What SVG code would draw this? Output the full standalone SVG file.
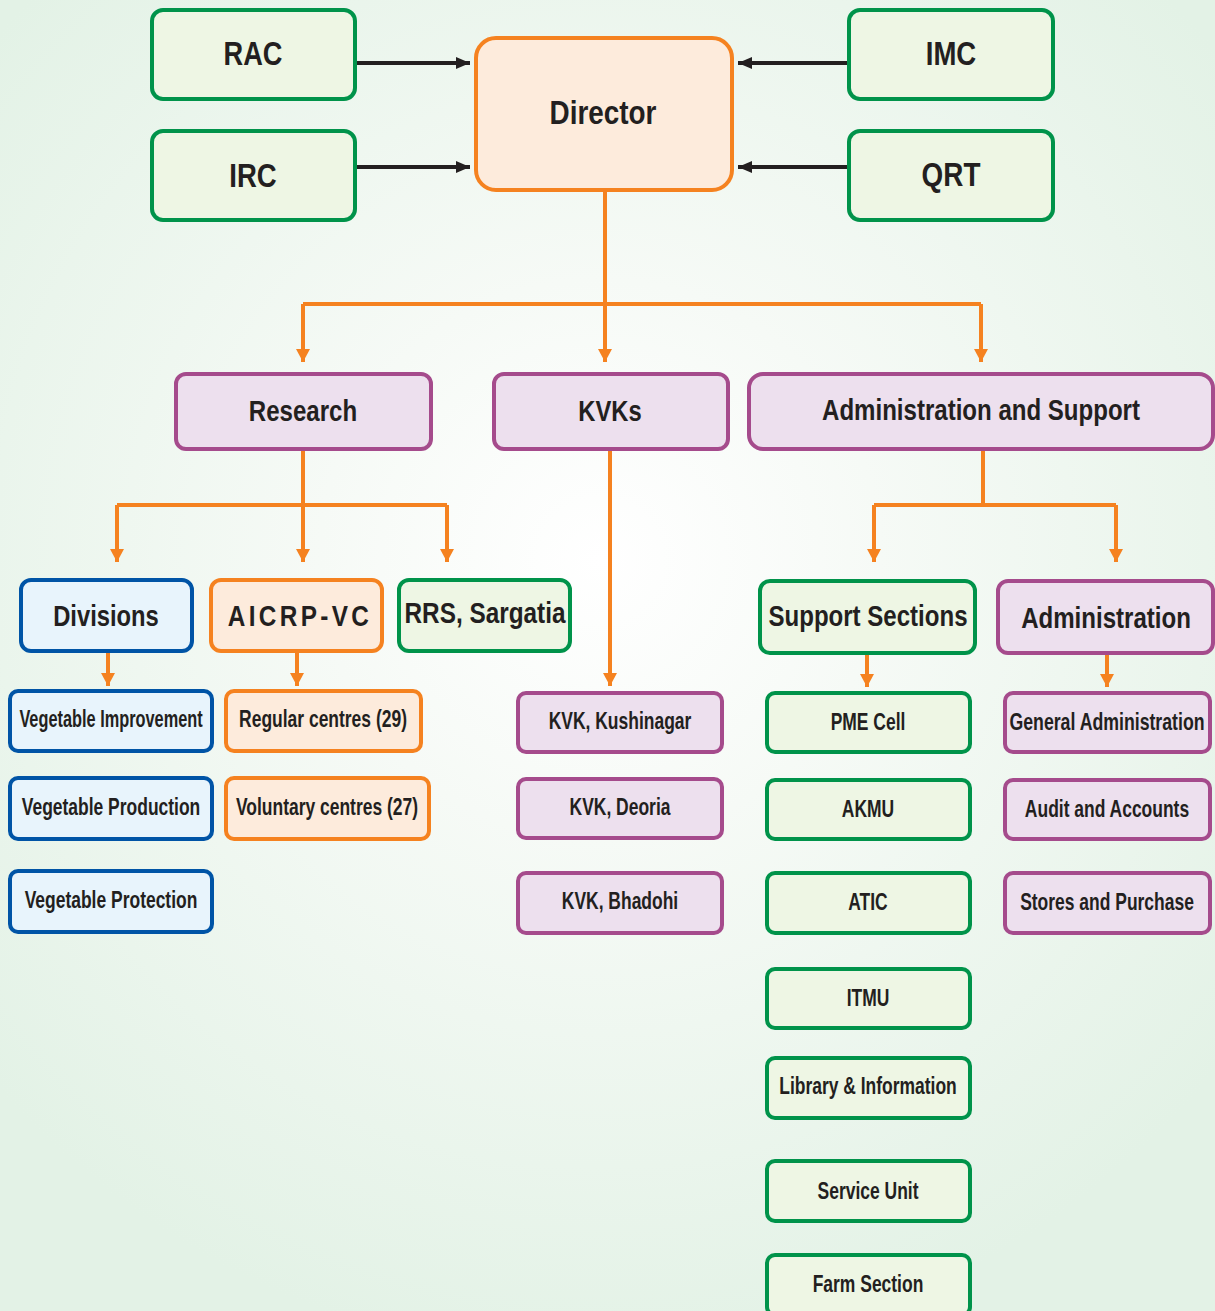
<svg xmlns="http://www.w3.org/2000/svg" width="1215" height="1311" viewBox="0 0 1215 1311">
<defs>
<radialGradient id="bg" cx="600" cy="560" r="800" gradientUnits="userSpaceOnUse">
<stop offset="0" stop-color="#ffffff"/>
<stop offset="0.35" stop-color="#f6faf6"/>
<stop offset="1" stop-color="#e3f2e6"/>
</radialGradient>
<marker id="ao" markerUnits="userSpaceOnUse" markerWidth="16" markerHeight="16" viewBox="0 0 16 16" refX="13" refY="8" orient="auto">
<path d="M0,1 L13,8 L0,15 Z" fill="#f58220"/>
</marker>
<marker id="ak" markerUnits="userSpaceOnUse" markerWidth="16" markerHeight="16" viewBox="0 0 16 16" refX="14" refY="8" orient="auto">
<path d="M0,2 L14,8 L0,14 Z" fill="#231f20"/>
</marker>
</defs>
<style>
text{font-family:"Liberation Sans","Arial",sans-serif;font-weight:bold;fill:#231f20;text-anchor:middle;dominant-baseline:central}
.g rect{fill:#eef6e4;stroke:#00934a;stroke-width:4}
.p rect{fill:#ede0ee;stroke:#a54b8c;stroke-width:4}
.o rect{fill:#fdebdc;stroke:#f58220;stroke-width:4}
.b rect{fill:#e8f4fc;stroke:#0054a6;stroke-width:4}
.big{font-size:34px}
.mid{font-size:29px}
.sm{font-size:23px}
.oc{fill:none;stroke:#f58220;stroke-width:4}
.kc{fill:none;stroke:#231f20;stroke-width:4}
</style>
<rect width="1215" height="1311" fill="url(#bg)"/>

<g id="connectors">
<path class="kc" d="M355,63 H470" marker-end="url(#ak)"/>
<path class="kc" d="M355,167 H470" marker-end="url(#ak)"/>
<path class="kc" d="M849,63 H738" marker-end="url(#ak)"/>
<path class="kc" d="M849,167 H738" marker-end="url(#ak)"/>
<path class="oc" d="M605,190 V304"/>
<path class="oc" d="M303,304 H981"/>
<path class="oc" d="M303,304 V362" marker-end="url(#ao)"/>
<path class="oc" d="M605,304 V362" marker-end="url(#ao)"/>
<path class="oc" d="M981,304 V362" marker-end="url(#ao)"/>
<path class="oc" d="M303,449 V505"/>
<path class="oc" d="M117,505 H447"/>
<path class="oc" d="M117,505 V562" marker-end="url(#ao)"/>
<path class="oc" d="M303,505 V562" marker-end="url(#ao)"/>
<path class="oc" d="M447,505 V562" marker-end="url(#ao)"/>
<path class="oc" d="M610,449 V686" marker-end="url(#ao)"/>
<path class="oc" d="M983,449 V505"/>
<path class="oc" d="M874,505 H1116"/>
<path class="oc" d="M874,505 V562" marker-end="url(#ao)"/>
<path class="oc" d="M1116,505 V562" marker-end="url(#ao)"/>
<path class="oc" d="M108,651 V686" marker-end="url(#ao)"/>
<path class="oc" d="M297,651 V686" marker-end="url(#ao)"/>
<path class="oc" d="M867,653 V687" marker-end="url(#ao)"/>
<path class="oc" d="M1107,653 V687" marker-end="url(#ao)"/>
</g>

<g id="rac" class="g"><rect x="152" y="10" width="203" height="89" rx="11"/><text class="big" transform="matrix(0.8 0 0 1 253 53)">RAC</text></g>
<g id="irc" class="g"><rect x="152" y="131" width="203" height="89" rx="11"/><text class="big" transform="matrix(0.81 0 0 1 253 175)">IRC</text></g>
<g id="imc" class="g"><rect x="849" y="10" width="204" height="89" rx="11"/><text class="big" transform="matrix(0.81 0 0 1 951 53)">IMC</text></g>
<g id="qrt" class="g"><rect x="849" y="131" width="204" height="89" rx="11"/><text class="big" transform="matrix(0.82 0 0 1 951 175)">QRT</text></g>
<g id="director" class="o"><rect x="476" y="38" width="256" height="152" rx="20"/><text class="big" transform="matrix(0.82 0 0 1 603 113)">Director</text></g>

<g id="research" class="p"><rect x="176" y="374" width="255" height="75" rx="10"/><text class="mid" transform="matrix(0.83 0 0 1 303 411)">Research</text></g>
<g id="kvks" class="p"><rect x="494" y="374" width="234" height="75" rx="10"/><text class="mid" transform="matrix(0.82 0 0 1 610 411)">KVKs</text></g>
<g id="adminsupport" class="p"><rect x="749" y="374" width="464" height="75" rx="14"/><text class="mid" transform="matrix(0.83 0 0 1 981 410)">Administration and Support</text></g>

<g id="divisions" class="b"><rect x="21" y="580" width="171" height="71" rx="10"/><text class="mid" transform="matrix(0.82 0 0 1 106 616)">Divisions</text></g>
<g id="aicrp" class="o"><rect x="211" y="580" width="171" height="71" rx="10"/><text class="mid" letter-spacing="4" transform="matrix(0.84 0 0 1 300 616)">AICRP-VC</text></g>
<g id="rrs" class="g"><rect x="399" y="580" width="171" height="71" rx="10"/><text class="mid" transform="matrix(0.84 0 0 1 485 613)">RRS, Sargatia</text></g>
<g id="support" class="g"><rect x="760" y="581" width="215" height="72" rx="10"/><text class="mid" transform="matrix(0.83 0 0 1 868 616)">Support Sections</text></g>
<g id="administration" class="p"><rect x="998" y="581" width="215" height="72" rx="10"/><text class="mid" transform="matrix(0.83 0 0 1 1106 618)">Administration</text></g>

<g id="vimp" class="b"><rect x="10" y="691" width="202" height="60" rx="8"/><text class="sm" transform="matrix(0.71 0 0 1 111 719)">Vegetable Improvement</text></g>
<g id="vprod" class="b"><rect x="10" y="778" width="202" height="61" rx="8"/><text class="sm" transform="matrix(0.76 0 0 1 111 807)">Vegetable Production</text></g>
<g id="vprot" class="b"><rect x="10" y="871" width="202" height="61" rx="8"/><text class="sm" transform="matrix(0.76 0 0 1 111 900)">Vegetable Protection</text></g>
<g id="regular" class="o"><rect x="226" y="691" width="195" height="60" rx="8"/><text class="sm" transform="matrix(0.76 0 0 1 323 719)">Regular centres (29)</text></g>
<g id="voluntary" class="o"><rect x="226" y="778" width="203" height="61" rx="8"/><text class="sm" transform="matrix(0.76 0 0 1 327 807)">Voluntary centres (27)</text></g>

<g id="kvk1" class="p"><rect x="518" y="693" width="204" height="59" rx="8"/><text class="sm" transform="matrix(0.76 0 0 1 620 721)">KVK, Kushinagar</text></g>
<g id="kvk2" class="p"><rect x="518" y="779" width="204" height="59" rx="8"/><text class="sm" transform="matrix(0.76 0 0 1 620 807)">KVK, Deoria</text></g>
<g id="kvk3" class="p"><rect x="518" y="873" width="204" height="60" rx="8"/><text class="sm" transform="matrix(0.76 0 0 1 620 901)">KVK, Bhadohi</text></g>

<g id="pme" class="g"><rect x="767" y="693" width="203" height="59" rx="8"/><text class="sm" transform="matrix(0.76 0 0 1 868 722)">PME Cell</text></g>
<g id="akmu" class="g"><rect x="767" y="780" width="203" height="59" rx="8"/><text class="sm" transform="matrix(0.76 0 0 1 868 809)">AKMU</text></g>
<g id="atic" class="g"><rect x="767" y="873" width="203" height="60" rx="8"/><text class="sm" transform="matrix(0.76 0 0 1 868 902)">ATIC</text></g>
<g id="itmu" class="g"><rect x="767" y="969" width="203" height="59" rx="8"/><text class="sm" transform="matrix(0.76 0 0 1 868 998)">ITMU</text></g>
<g id="library" class="g"><rect x="767" y="1058" width="203" height="60" rx="8"/><text class="sm" transform="matrix(0.76 0 0 1 868 1086)">Library &amp; Information</text></g>
<g id="service" class="g"><rect x="767" y="1161" width="203" height="60" rx="8"/><text class="sm" transform="matrix(0.76 0 0 1 868 1191)">Service Unit</text></g>
<g id="farm" class="g"><rect x="767" y="1255" width="203" height="60" rx="8"/><text class="sm" transform="matrix(0.76 0 0 1 868 1284)">Farm Section</text></g>

<g id="genadmin" class="p"><rect x="1005" y="693" width="205" height="59" rx="8"/><text class="sm" transform="matrix(0.77 0 0 1 1107 722)">General Administration</text></g>
<g id="audit" class="p"><rect x="1005" y="780" width="205" height="59" rx="8"/><text class="sm" transform="matrix(0.76 0 0 1 1107 809)">Audit and Accounts</text></g>
<g id="stores" class="p"><rect x="1005" y="873" width="205" height="60" rx="8"/><text class="sm" transform="matrix(0.76 0 0 1 1107 902)">Stores and Purchase</text></g>
</svg>
